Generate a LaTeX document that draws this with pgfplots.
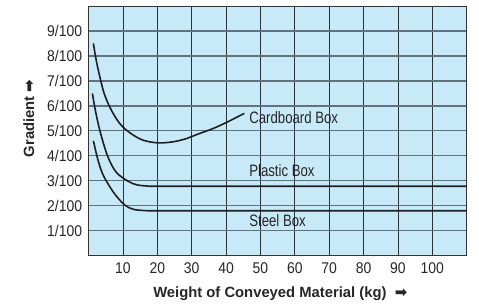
\documentclass[border=0pt]{standalone}
\usepackage{fontspec}
\setmainfont{Liberation Sans}
\newfontfamily\condfont{Liberation Sans}[FakeStretch=0.8]
\newfontfamily\tickfont{Liberation Sans}[FakeStretch=0.9]
\newfontfamily\symfont{DejaVu Sans}
\usepackage{pgfplots}
\pgfplotsset{compat=1.18}
\definecolor{bgblue}{HTML}{C8E9F8}
\definecolor{hgrid}{HTML}{5F727D}
\definecolor{vgrid}{HTML}{2A3237}
\begin{document}
\begin{tikzpicture}
\useasboundingbox (-88.6pt,-48.3pt) rectangle (390.4pt,255.7pt);
\begin{axis}[
  at={(0,0)}, anchor=south west,
  width=378.1pt, height=249.7pt, scale only axis,
  xmin=0, xmax=110, ymin=0, ymax=10,
  axis background/.style={fill=bgblue},
  axis line style={draw=black!80, line width=0.9pt},
  xtick={10,20,30,40,50,60,70,80,90,100},
  xticklabels={10,20,30,40,50,60,70,80,90,100},
  ytick={1,2,3,4,5,6,7,8,9},
  yticklabels={1/100,2/100,3/100,4/100,5/100,6/100,7/100,8/100,9/100},
  /pgf/number format/assume math mode=true,
  major tick length=0pt,
  ticklabel style={font=\fontsize{15.5}{16}\selectfont\tickfont, text=black!85},
  xticklabel style={yshift=-3pt},
  yticklabel style={xshift=-3pt},
  xmajorgrids, ymajorgrids,
  x grid style={draw=vgrid, line width=0.9pt},
  y grid style={draw=hgrid, line width=1.3pt},
  xlabel={Weight of Conveyed Material (kg)\ \ {\symfont\fontsize{15}{15}\selectfont ➡}},
  ylabel={Gradient\ {\symfont\fontsize{15}{15}\selectfont ➡}},
  label style={font=\fontsize{14.8}{15}\selectfont\bfseries, text=black!85},
  xlabel style={at={(axis description cs:0.507,-0.153)}, anchor=center},
  ylabel style={at={(axis description cs:-0.158,0.55)}, anchor=center},
  clip=true,
]
% Cardboard Box
\addplot[line width=1.6pt, draw=black!88, no markers, smooth, tension=0.55] coordinates {(1.4,8.5) (2.4,7.7) (4.3,6.6) (6,6.0) (8,5.5) (10,5.15) (13,4.83) (16,4.62) (20,4.52) (24,4.55) (28,4.67) (32,4.88) (36,5.08) (40,5.33) (45.3,5.7)};
% Plastic Box
\addplot[line width=1.6pt, draw=black!88, no markers, smooth, tension=0.55] coordinates {(1.1,6.5) (2,5.8) (3.3,5.0) (5.5,4.0) (8,3.35) (11.5,2.98) (14,2.84) (17,2.79) (20,2.78) (40,2.78) (80,2.78) (110,2.78)};
% Steel Box
\addplot[line width=1.6pt, draw=black!88, no markers, smooth, tension=0.55] coordinates {(1.4,4.6) (2.6,3.9) (4,3.3) (6,2.8) (8,2.4) (10.6,2.02) (13,1.86) (16,1.81) (20,1.8) (40,1.8) (80,1.8) (110,1.8)};
\node[anchor=base west, inner sep=0pt, font=\fontsize{16.5}{17}\selectfont\condfont, text=black!85] at (axis cs:46.7,5.3) {Cardboard Box};
\node[anchor=base west, inner sep=0pt, font=\fontsize{16.5}{17}\selectfont\condfont, text=black!85] at (axis cs:46.7,3.19) {Plastic Box};
\node[anchor=base west, inner sep=0pt, font=\fontsize{16.5}{17}\selectfont\condfont, text=black!85] at (axis cs:46.7,1.16) {Steel Box};
\end{axis}
\end{tikzpicture}
\end{document}
